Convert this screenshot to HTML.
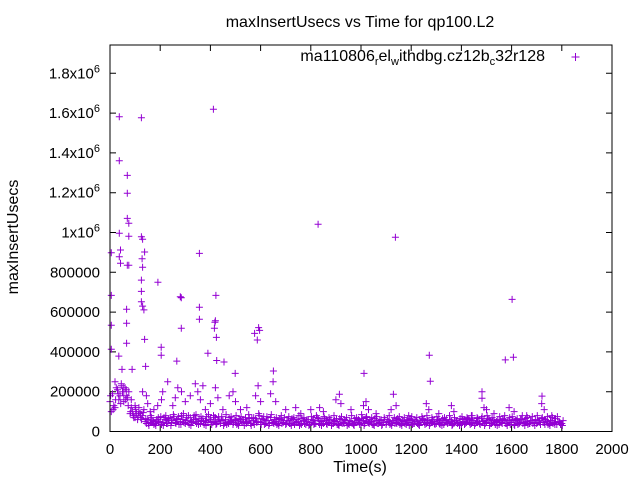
<!DOCTYPE html>
<html><head><meta charset="utf-8"><style>
html,body{margin:0;padding:0;background:#fff}
svg{display:block;font-family:"Liberation Sans",sans-serif}
</style></head><body>
<svg id="chart" width="640" height="480" viewBox="0 0 640 480" xmlns="http://www.w3.org/2000/svg">
<text x="360" y="27" font-size="16" text-anchor="middle" fill="#000">maxInsertUsecs vs Time for qp100.L2</text>
<text transform="translate(18,237) rotate(-90)" font-size="16" text-anchor="middle" fill="#000">maxInsertUsecs</text>
<text x="360" y="472" font-size="16" text-anchor="middle" fill="#000">Time(s)</text>
<g id="axes"></g>
<g id="marks"></g>
<rect x="110" y="45" width="502" height="386.5" fill="none" stroke="#000" stroke-width="1"/>
<g>
<text x="545" y="61" font-size="16" text-anchor="end" fill="#000">ma110806<tspan font-size="11" dy="4">r</tspan><tspan dy="-4">el</tspan><tspan font-size="11" dy="4">w</tspan><tspan dy="-4">ithdbg.cz12b</tspan><tspan font-size="11" dy="4">c</tspan><tspan dy="-4">32r128</tspan></text>
<path d="M571.5 57h8M575.5 53v8" stroke="#9400d3" stroke-width="1"/>
</g>
</svg>
<script>
const xTicks=[0,200,400,600,800,1000,1200,1400,1600,1800,2000];
const yTicks=[0,200000,400000,600000,800000,1000000,1200000,1400000,1600000,1800000];
const yTickLabels=["0","200000","400000","600000","800000","1x10|6","1.2x10|6","1.4x10|6","1.6x10|6","1.8x10|6"];
const baseT=[0,10,20,30,40,50,60,70,80,90,100,110,120,130,140,150,160,170,180,190,200,210,220,230,240,250,260,270,280,290,300,310,320,330,340,350,360,370,380,390,400,410,420,430,440,450,460,470,480,490,500,510,520,530,540,550,560,570,580,590,600,610,620,630,640,650,660,670,680,690,700,710,720,730,740,750,760,770,780,790,800,810,820,830,840,850,860,870,880,890,900,910,920,930,940,950,960,970,980,990,1000,1010,1020,1030,1040,1050,1060,1070,1080,1090,1100,1110,1120,1130,1140,1150,1160,1170,1180,1190,1200,1210,1220,1230,1240,1250,1260,1270,1280,1290,1300,1310,1320,1330,1340,1350,1360,1370,1380,1390,1400,1410,1420,1430,1440,1450,1460,1470,1480,1490,1500,1510,1520,1530,1540,1550,1560,1570,1580,1590,1600,1610,1620,1630,1640,1650,1660,1670,1680,1690,1700,1710,1720,1730,1740,1750,1760,1770,1780,1790,1800];
const baseV1=[150,190,120,210,180,200,220,170,90,100,70,60,90,80,50,60,45,55,40,60,50,45,60,40,70,55,45,65,50,60,40,55,70,45,60,50,40,65,55,45,60,45,70,50,40,55,60,45,50,35,55,40,60,45,70,50,40,55,65,50,45,60,40,55,70,45,50,40,60,45,35,55,40,60,45,50,40,55,35,60,45,55,40,65,50,40,55,45,60,40,50,35,60,45,55,40,50,35,45,60,40,55,70,45,50,35,55,40,60,45,35,50,40,55,45,60,40,50,35,45,55,40,50,35,45,60,40,55,45,50,40,55,45,35,60,45,50,40,55,45,35,50,45,60,40,55,45,50,65,55,45,60,40,55,50,35,45,60,40,55,45,35,55,40,60,45,50,40,55,45,40,55,65,45,50,40,55,45,35,50,40];
const baseV2=[100,130,220,160,240,150,180,200,120,70,90,100,60,110,40,30,70,35,60,45,35,70,40,55,45,75,60,35,80,45,70,35,50,80,40,65,55,35,75,60,35,70,40,60,75,40,35,70,55,60,35,65,50,30,45,65,70,35,45,80,65,35,75,40,45,60,35,65,40,70,55,40,65,35,60,30,65,40,60,35,60,40,70,35,55,65,35,60,40,55,35,65,40,60,30,55,40,65,55,35,65,40,50,60,35,65,40,55,35,60,60,35,55,40,65,35,55,40,60,65,35,60,40,55,65,35,55,40,60,35,60,35,65,55,40,60,35,55,40,65,60,40,65,35,55,40,65,35,50,40,65,40,55,35,60,55,65,40,55,35,60,55,35,60,40,65,35,55,40,60,55,35,45,60,35,55,40,65,50,35,55];
const baseV3=[180,110,160,190,140,220,160,130,100,80,110,80,70,95,65,40,80,50,30,70,75,30,80,65,30,85,40,75,35,90,55,80,30,60,85,35,75,50,30,85,50,80,35,75,55,30,85,40,75,45,80,30,75,60,40,85,30,70,50,90,35,75,55,30,85,40,70,30,80,55,40,75,30,70,45,80,35,70,50,30,75,35,80,55,30,75,40,70,30,80,65,30,75,40,70,35,80,30,70,45,85,30,75,40,70,30,75,45,30,70,45,80,30,70,40,75,30,70,55,30,75,40,70,30,75,45,80,30,70,40,75,40,30,70,45,80,30,70,45,30,75,35,70,45,80,30,70,40,75,30,80,30,70,45,30,75,40,80,30,70,75,30,65,45,80,30,70,40,75,30,80,45,70,35,75,30,70,35,75,45,30];
const bumpT=[20,45,55,65,85,100,115,130,145,150,160,175,190,205,210,230,250,260,270,285,300,320,340,350,360,370,380,400,420,430,450,475,490,500,520,545,580,590,600,640,650,660,700,740,760,800,835,850,900,920,960,1010,1020,1030,1060,1120,1140,1190,1260,1270,1310,1360,1370,1440,1490,1500,1530,1590,1610,1660,1720,1730,1760];
const bumpV=[250,230,180,210,160,130,120,200,180,140,100,110,130,160,200,250,130,170,220,200,150,180,240,200,160,230,110,140,220,170,110,180,200,150,110,120,180,230,150,190,250,150,110,120,90,110,120,100,160,140,110,130,150,110,90,110,130,80,140,110,90,130,100,80,120,110,90,120,100,80,140,110,80];
const outT=[37,125,412,37,69,69,69,75,37,75,125,130,5,42,37,42,75,69,138,128,130,356,829,125,125,191,5,125,130,135,280,284,422,356,356,66,66,66,5,5,138,284,420,418,416,424,592,596,576,587,35,204,204,390,425,454,266,499,651,88,48,142,1137,1602,1272,1575,1607,1012,1276,1482,1482,1129,914,1721];
const outV=[1582,1577,1619,1361,1287,1197,1071,1046,996,981,979,966,898,912,878,845,835,835,902,868,825,895,1041,761,704,750,684,652,630,611,677,672,684,624,564,614,544,443,534,413,463,519,557,549,519,473,522,508,493,460,379,423,383,393,357,349,354,292,304,312,312,327,976,664,383,360,373,292,253,200,167,187,187,178];
const NS='http://www.w3.org/2000/svg';
const X0=110,X1=612,Y0=431.5,YPER=39.8/200000;
function sx(t){return X0+(X1-X0)*t/2000;}
function sy(v){return Y0-v*YPER;}
const axes=document.getElementById('axes');
xTicks.forEach(function(t,i){
  const x=sx(t);
  const p=document.createElementNS(NS,'path');
  p.setAttribute('d','M'+x+' '+Y0+'v-6M'+x+' 45v6');
  p.setAttribute('stroke','#000');
  
  
  axes.appendChild(p);
  const tx=document.createElementNS(NS,'text');
  tx.setAttribute('x',x);tx.setAttribute('y',454);
  tx.setAttribute('font-size','15');tx.setAttribute('text-anchor','middle');
  tx.textContent=String(t);
  
  
  axes.appendChild(tx);
});
yTicks.forEach(function(v,i){
  const y=sy(v);
  const p=document.createElementNS(NS,'path');
  p.setAttribute('d','M'+X0+' '+y+'h6M'+X1+' '+y+'h-6');
  p.setAttribute('stroke','#000');
  
  
  axes.appendChild(p);
  const tx=document.createElementNS(NS,'text');
  tx.setAttribute('x',100);tx.setAttribute('y',y+5);
  tx.setAttribute('font-size','15');tx.setAttribute('text-anchor','end');
  const parts=yTickLabels[i].split('|');
  tx.appendChild(document.createTextNode(parts[0]));
  if(parts.length>1){
    const s=document.createElementNS(NS,'tspan');
    s.setAttribute('font-size','11');s.setAttribute('dy','-6');
    s.textContent=parts[1];
    tx.appendChild(s);
  }
  
  
  axes.appendChild(tx);
});
const marks=document.getElementById('marks');
let d='';
function add(t,v){const x=sx(t),y=sy(v);d+='M'+(x-3.5).toFixed(1)+' '+y.toFixed(1)+'h7M'+x.toFixed(1)+' '+(y-3.5).toFixed(1)+'v7';}
baseT.forEach(function(t,i){add(t,baseV1[i]*1000);add(t+5,baseV2[i]*1000);add(t+2.5,baseV3[i]*1000);});
bumpT.forEach(function(t,i){add(t,bumpV[i]*1000);});
outT.forEach(function(t,i){add(t,outV[i]*1000);});
const path=document.createElementNS(NS,'path');
path.setAttribute('d',d);
path.setAttribute('stroke','#9400d3');
path.setAttribute('stroke-width','1');
path.setAttribute('fill','none');


marks.appendChild(path);
</script>
</body></html>
